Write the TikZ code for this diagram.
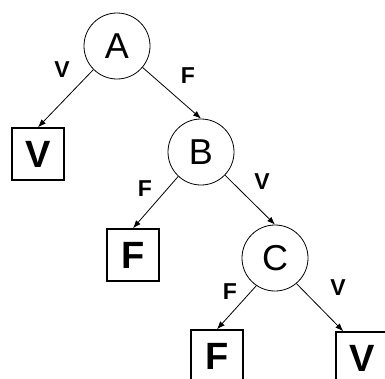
\documentclass[tikz,border=0pt]{standalone}
\usepackage{fontspec}
\setmainfont{Liberation Sans}
\usetikzlibrary{arrows.meta}

\begin{document}
\begin{tikzpicture}[x=1pt,y=-1pt,>={Latex[length=8pt,width=6pt]}]
  \useasboundingbox (0,0) rectangle (385,378);
  \tikzset{
    test/.style={draw,shape=circle,line width=.8pt,inner sep=0pt,minimum size=66pt,font=\fontsize{36}{40}\selectfont},
    leaf/.style={draw,shape=rectangle,line width=1.5pt,inner sep=0pt,minimum size=52pt,font=\fontsize{38}{40}\selectfont\bfseries},
    lab/.style={font=\fontsize{23}{26}\selectfont\bfseries}
  }
  \node[test] (A) at (117,46) {A};
  \node[test] (B) at (201,152) {B};
  \node[test] (C) at (275,258) {C};
  \node[leaf] (vA) at (38,154) {V};
  \node[leaf] (fB) at (133,255) {F};
  \node[leaf] (fC) at (217,356) {F};
  \node[leaf] (vC) at (362,358) {V};
  \draw[->,line width=.8pt] (A.south west) -- (vA.north);
  \draw[->,line width=.8pt] (A.-40) -- (B.north);
  \draw[->,line width=.8pt] (B.-133) -- (fB.north);
  \draw[->,line width=.8pt] (B.-44) -- (C.north);
  \draw[->,line width=.8pt] (C.-124) -- (fC.north);
  \draw[->,line width=.8pt] (C.-50) -- (vC.125);
  \node[lab] (lAV) at (62,70) {V};
  \node[lab] (lAF) at (188,76) {F};
  \node[lab] (lBF) at (145,189) {F};
  \node[lab] (lBV) at (262,182) {V};
  \node[lab] (lCF) at (230,292) {F};
  \node[lab] (lCV) at (338,288) {V};
\end{tikzpicture}
\end{document}
